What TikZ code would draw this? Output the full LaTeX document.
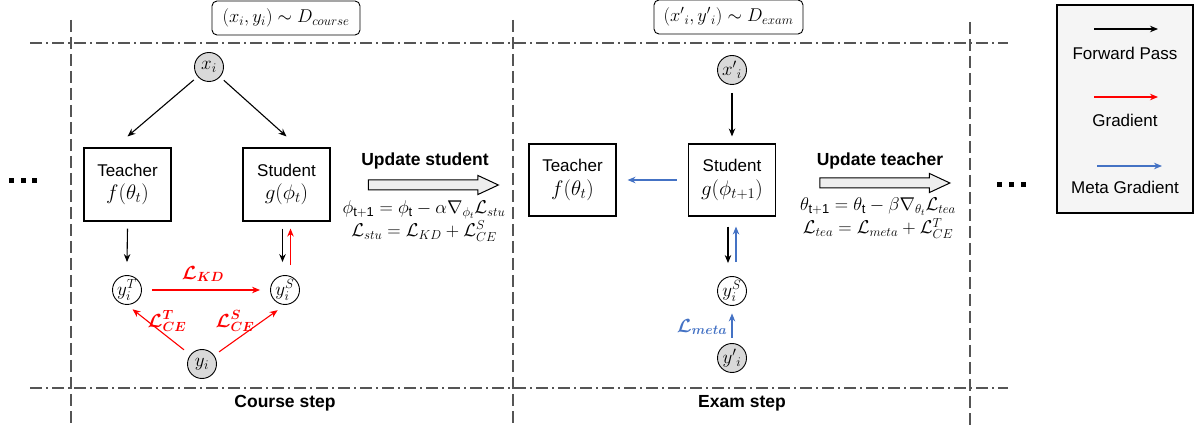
\RequirePackage{fix-cm}
\documentclass[tikz,border=0pt]{standalone}
\usepackage{amsmath,bm}
\usepackage{fontspec}
\setmainfont{Liberation Sans}
\usetikzlibrary{arrows.meta,shapes.arrows}
\definecolor{gradred}{HTML}{FF0000}
\definecolor{metablue}{HTML}{4472C4}
\definecolor{sepgray}{HTML}{555555}
\definecolor{obsgray}{HTML}{D9D9D9}
\definecolor{legfill}{HTML}{F5F5F5}
\definecolor{arrfill}{HTML}{EEEEEE}
\newcommand{\mathbig}{\fontsize{21}{24}\selectfont}
\tikzset{
  fw/.style={draw=black, line width=1.1pt, -{Stealth[length=8pt,width=6.5pt]}},
  gr/.style={fw, draw=gradred, color=gradred},
  mg/.style={fw, draw=metablue, color=metablue},
  model/.style={draw, line width=1.1pt, minimum width=87pt, minimum height=73pt, align=center, inner sep=2pt, font=\fontsize{17}{23.5}\selectfont},
  var/.style={circle, draw, line width=0.9pt, minimum size=29pt, inner sep=0pt, font=\fontsize{19}{19}\selectfont},
  obs/.style={var, fill=obsgray},
  hsep/.style={draw=sepgray, line width=1.2pt, dash pattern=on 12pt off 4pt on 2pt off 4pt},
  vsep/.style={draw=sepgray, line width=1.2pt, dash pattern=on 12pt off 5pt},
  upd/.style={single arrow, draw, fill=arrfill, line width=1pt, minimum height=130pt, inner sep=4.5pt, single arrow head extend=4.5pt, single arrow tip angle=50},
  head/.style={font=\bfseries\fontsize{17.5}{20}\selectfont},
  eq/.style={align=center, font=\fontsize{18.5}{23}\selectfont},
  tag/.style={draw, fill=white, rounded corners=5pt, line width=0.9pt, minimum height=34pt, font=\fontsize{18.5}{20}\selectfont},
  lab/.style={font=\fontsize{19}{20}\selectfont},
  legtext/.style={font=\fontsize{17}{20}\selectfont},
}
\begin{document}
\begin{tikzpicture}[x=1pt, y=-1pt]
\useasboundingbox (0,0) rectangle (1200,430);
% separators
\draw[vsep] (71,20) -- (71,425);
\draw[vsep] (513,20) -- (513,425);
\draw[vsep] (970,22) -- (970,425);
\draw[hsep] (30,43) -- (1008,43);
\draw[hsep] (30,388) -- (1008,388);
% dots
\foreach \x in {11,23,34} \fill (\x-2.5,178.5) rectangle +(5,5);
\foreach \x in {999,1011,1023} \fill (\x-2.5,182.5) rectangle +(5,5);
% tags
\node[tag, minimum width=148pt] (tagA) at (286,18) {$(x_i, y_i) \sim D_{course}$};
\node[tag, minimum width=149pt] (tagB) at (728.5,17) {$(x'{}_i, y'{}_i) \sim D_{exam}$};
% ---- course step ----
\node[obs] (xi) at (209,67) {$x_i$};
\node[model] (teaA) at (127.5,184.5) {Teacher\\{\mathbig$f(\theta_t)$}};
\node[model] (stuA) at (286.5,184.5) {Student\\{\mathbig$g(\phi_t)$}};
\node[var] (yT) at (127,290) {$y_i^T$};
\node[var] (yS) at (285,290) {$y_i^S$};
\node[obs] (yi) at (202,364) {$y_i$};
\draw[fw, shorten <=5pt] (xi) -- ([yshift=11pt]teaA.north);
\draw[fw, shorten <=5pt] (xi) -- ([yshift=11pt]stuA.north);
\draw[fw] ([yshift=-7pt]teaA.south) -- ([yshift=13pt]yT.north);
\draw[fw] ([xshift=-4pt,yshift=-7pt]stuA.south) -- ([xshift=-2.5pt,yshift=13pt]yS.north);
\draw[gr] ([xshift=5.5pt,yshift=10pt]yS.north) -- ([xshift=4pt,yshift=-7pt]stuA.south);
\draw[gr, shorten <=10pt, shorten >=10pt] (yT) -- (yS);
\draw[gr, shorten <=8pt, shorten >=7pt] (yi) -- (yT.south);
\draw[gr, shorten <=6pt, shorten >=9pt] (yi) -- (yS.south);
\node[lab, text=gradred] (lkd) at (203,274) {$\bm{\mathcal{L}_{KD}}$};
\node[lab, text=gradred] (lcet) at (167,321) {$\bm{\mathcal{L}_{CE}^{T}}$};
\node[lab, text=gradred] (lces) at (235,321) {$\bm{\mathcal{L}_{CE}^{S}}$};
\node[head] (updtA) at (425,161) {Update student};
\node[upd] (arrA) at (428,185) {};
\node[eq] (eqA) at (424,221) {$\phi_{\mathrm{t+1}} = \phi_{\mathrm{t}} - \alpha\nabla_{\phi_t}\mathcal{L}_{stu}$\\$\mathcal{L}_{stu} = \mathcal{L}_{KD} + \mathcal{L}_{CE}^{S}$};
\node[head] (stepA) at (285,403) {Course step};
% ---- exam step ----
\node[obs] (xpi) at (732,70) {$x'{}_i$};
\node[model, minimum height=72pt] (teaB) at (572.5,180) {Teacher\\{\mathbig$f(\theta_t)$}};
\node[model, minimum height=72pt] (stuB) at (732,180) {Student\\{\mathbig$g(\phi_{t+1})$}};
\node[var] (ySB) at (732,291) {$y_i^S$};
\node[obs] (ypi) at (732,358) {$y'{}_i$};
\draw[fw, shorten <=8pt, shorten >=7pt] (xpi.south) -- (stuB.north);
\draw[mg, shorten <=11pt, shorten >=11pt] (stuB.west) -- (teaB.east);
\draw[fw] ([xshift=-4pt,yshift=-10pt]stuB.south) -- ([xshift=-4pt,yshift=13pt]ySB.north);
\draw[mg] ([xshift=4pt,yshift=14pt]ySB.north) -- ([xshift=4pt,yshift=-10pt]stuB.south);
\draw[mg, shorten <=5.5pt, shorten >=7.5pt] (ypi.north) -- (ySB.south);
\node[lab, text=metablue] (lmeta) at (702,327) {$\bm{\mathcal{L}_{meta}}$};
\node[head] (updtB) at (880,161) {Update teacher};
\node[upd] (arrB) at (879.5,183) {};
\node[eq] (eqB) at (878,218.5) {$\theta_{\mathrm{t+1}} = \theta_{\mathrm{t}} - \beta\nabla_{\theta_t}\mathcal{L}_{tea}$\\$\mathcal{L}_{tea} = \mathcal{L}_{meta} + \mathcal{L}_{CE}^{T}$};
\node[head] (stepB) at (742,403) {Exam step};
% ---- legend ----
\node[draw, fill=legfill, line width=1.5pt, minimum width=136pt, minimum height=208pt] (legend) at (1125,109) {};
\coordinate (l1a) at (1094,29); \coordinate (l1b) at (1158,29);
\coordinate (l2a) at (1094,97); \coordinate (l2b) at (1158,97);
\coordinate (l3a) at (1097,166); \coordinate (l3b) at (1162,166);
\draw[fw] (l1a) -- (l1b);
\draw[gr] (l2a) -- (l2b);
\draw[mg] (l3a) -- (l3b);
\node[legtext] (lt1) at (1125,53) {Forward Pass};
\node[legtext] (lt2) at (1125,120) {Gradient};
\node[legtext] (lt3) at (1125,187) {Meta Gradient};
\end{tikzpicture}
\end{document}
